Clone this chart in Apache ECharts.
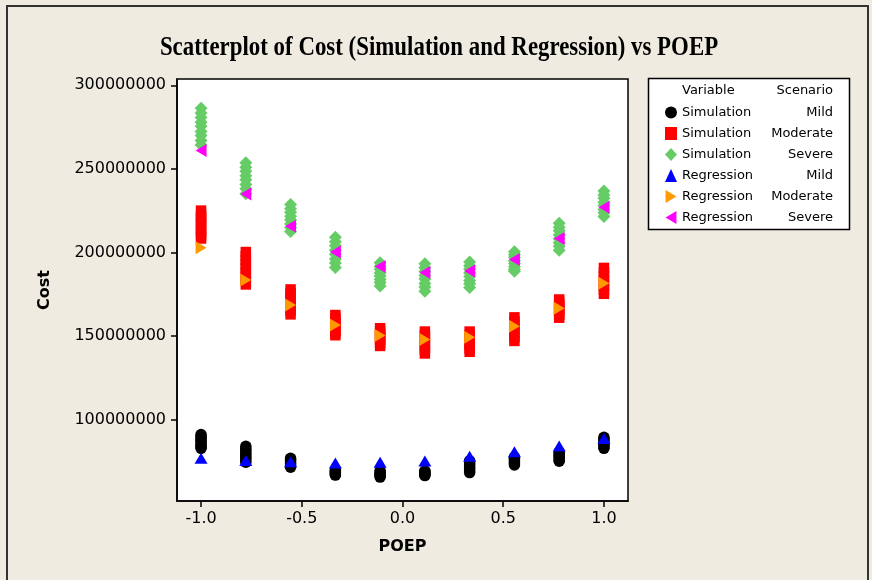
<!DOCTYPE html>
<html>
<head>
<meta charset="utf-8">
<script src="https://cdn.jsdelivr.net/npm/echarts@6/dist/echarts.min.js"></script>
<style>
html,body{margin:0;padding:0;background:#EFEBE1;}
#chart{width:872px;height:580px;}
</style>
</head>
<body>
<div id="chart"></div>
<script>
// ---- data (Cost values in millions) ----
const poep = [-1, -0.7778, -0.5556, -0.3333, -0.1111, 0.1111, 0.3333, 0.5556, 0.7778, 1];
const xTicks = [-1, -0.5, 0, 0.5, 1];
const yTicks = [100000000, 150000000, 200000000, 250000000, 300000000];
const simMild = [
  [91.0, 89.8, 88.8, 87.5, 86.6, 85.3, 84.4, 83.3, 82.7],
  [83.9, 82.6, 81.5, 80.1, 79.2, 77.8, 76.8, 75.5, 74.4],
  [76.8, 75.8, 75.1, 74.0, 73.3, 72.3, 71.4],
  [69.6, 69.1, 68.3, 67.9, 67.1, 66.7],
  [69.3, 68.4, 67.9, 66.9, 66.4, 65.5],
  [69.3, 68.6, 68.2, 67.4, 67.0, 66.4],
  [75.3, 74.0, 73.0, 71.6, 70.7, 69.3, 68.2],
  [77.4, 76.4, 75.7, 74.6, 73.9, 72.8],
  [80.4, 79.4, 78.7, 77.6, 76.9, 75.8, 75.0],
  [89.3, 88.1, 87.2, 85.9, 85.0, 83.7, 82.7]
];
const simModerate = [
  [225.0, 222.5, 220.6, 218.8, 216.5, 214.0, 212.3, 210.2, 208.3],
  [200.2, 197.7, 195.2, 192.8, 190.3, 187.7, 185.6, 183.0, 180.8],
  [177.8, 175.5, 173.6, 171.3, 169.3, 167.0, 165.1, 162.9],
  [162.5, 160.5, 158.9, 156.9, 155.2, 153.1, 151.9, 150.4],
  [154.6, 152.7, 151.2, 149.4, 147.7, 145.8, 144.0],
  [152.6, 150.3, 148.4, 146.1, 144.1, 141.7, 139.5],
  [152.6, 150.5, 148.7, 146.5, 144.6, 142.4, 140.5],
  [161.1, 158.7, 156.6, 154.0, 151.8, 149.3, 147.0],
  [171.8, 169.9, 168.3, 166.3, 164.7, 162.6, 160.9],
  [190.7, 188.1, 185.7, 182.9, 180.5, 177.7, 175.2]
];
const simSevere = [
  [286.3, 283.4, 280.7, 277.8, 275.4, 272.3, 269.9, 266.9, 264.3],
  [253.6, 251.0, 248.6, 245.8, 243.4, 240.6, 238.1, 235.1],
  [228.6, 226.1, 224.0, 221.6, 219.5, 217.0, 214.9, 212.5],
  [209.0, 206.3, 204.0, 201.2, 198.8, 196.0, 193.7, 191.0],
  [193.8, 191.7, 189.9, 187.7, 185.9, 183.7, 181.9, 179.8],
  [193.2, 190.8, 188.6, 186.1, 184.0, 181.4, 179.2, 176.8],
  [194.3, 192.0, 190.0, 187.6, 185.6, 183.2, 181.2, 178.9],
  [200.4, 198.5, 197.0, 195.0, 193.3, 191.4, 189.8, 188.7],
  [217.4, 215.0, 212.9, 210.4, 208.2, 205.7, 203.6, 201.2],
  [236.7, 234.4, 232.4, 230.0, 228.0, 225.6, 223.7, 221.4]
];
const regMild = [76.8, 75.4, 74.7, 74.0, 74.4, 75.2, 78.0, 80.7, 84.1, 88.6];
const regModerate = [202.8, 183.5, 168.5, 156.5, 150.2, 147.8, 149.2, 155.8, 166.5, 181.5];
const regSevere = [260.9, 235.0, 215.7, 200.2, 191.5, 187.9, 188.9, 195.8, 208.3, 227.0];

const M = 1000000;
function clusterPairs(groups) {
  const out = [];
  groups.forEach((g, i) => g.forEach(v => out.push([poep[i], v * M])));
  return out;
}
function linePairs(vals) {
  return vals.map((v, i) => [poep[i], v * M]);
}

const rightTri = 'path://M0,0 L10,6 L0,12 Z';
const leftTri = 'path://M10,0 L0,6 L10,12 Z';

const chart = echarts.init(document.getElementById('chart'), null, {renderer: 'canvas'});
const axisFont = {fontFamily: 'DejaVu Sans', fontSize: 16, color: '#000'};

chart.setOption({
  backgroundColor: '#EFEBE1',
  animation: false,
  grid: {
    left: 177, top: 79, right: 244, bottom: 79,
    show: true, backgroundColor: '#FFFFFF', borderColor: '#000', borderWidth: 1.5
  },
  xAxis: {
    type: 'value', min: -1.1194, max: 1.1194,
    name: 'POEP', nameLocation: 'middle', nameGap: 38,
    nameTextStyle: {fontFamily: 'DejaVu Sans', fontWeight: 'bold', fontSize: 16, color: '#000'},
    axisLine: {show: true, onZero: false, lineStyle: {color: '#000', width: 1.5}},
    axisTick: {show: true, length: 6, customValues: xTicks, lineStyle: {color: '#000', width: 1.5}},
    axisLabel: Object.assign({customValues: xTicks, margin: 10, formatter: v => v.toFixed(1)}, axisFont),
    splitLine: {show: false}
  },
  yAxis: {
    type: 'value', min: 51200000, max: 303750000,
    name: 'Cost', nameLocation: 'middle', nameGap: 124,
    nameTextStyle: {fontFamily: 'DejaVu Sans', fontWeight: 'bold', fontSize: 16, color: '#000'},
    axisLine: {show: true, onZero: false, lineStyle: {color: '#000', width: 1.5}},
    axisTick: {show: true, length: 6, customValues: yTicks, lineStyle: {color: '#000', width: 1.5}},
    axisLabel: Object.assign({customValues: yTicks, margin: 11, formatter: v => String(Math.round(v))}, axisFont),
    splitLine: {show: false}
  },
  legend: {
    orient: 'vertical', left: 660, top: 101, itemWidth: 12, itemHeight: 13, itemGap: 8,
    textStyle: {fontFamily: 'DejaVu Sans', fontSize: 13, color: '#000', lineHeight: 13,
      rich: {
        a: {width: 92, align: 'left', fontFamily: 'DejaVu Sans', fontSize: 13, lineHeight: 13},
        b: {width: 59, align: 'right', fontFamily: 'DejaVu Sans', fontSize: 13, lineHeight: 13}
      }
    },
    formatter: name => {
      const p = name.split(' ');
      return '{a|' + p[0] + '}{b|' + p[1] + '}';
    },
    data: ['Simulation Mild', 'Simulation Moderate', 'Simulation Severe', 'Regression Mild', 'Regression Moderate', 'Regression Severe']
  },
  graphic: [
    {type: 'rect', z: -10, silent: true, shape: {x: 7, y: 6, width: 861, height: 600},
      style: {fill: 'none', stroke: '#333', lineWidth: 2}},
    {type: 'rect', z: 0, silent: true, shape: {x: 648.5, y: 78.5, width: 201, height: 151},
      style: {fill: '#FFFFFF', stroke: '#000', lineWidth: 1.5}},
    {type: 'text', z: 5, silent: true, x: 682, y: 91,
      style: {text: 'Variable', font: '13px "DejaVu Sans"', fill: '#000', textAlign: 'left', textVerticalAlign: 'middle'}},
    {type: 'text', z: 5, silent: true, x: 833, y: 91,
      style: {text: 'Scenario', font: '13px "DejaVu Sans"', fill: '#000', textAlign: 'right', textVerticalAlign: 'middle'}},
    {type: 'text', z: 5, silent: true, x: 439, y: 48, scaleX: 1.04, scaleY: 1.2,
      style: {text: 'Scatterplot of Cost (Simulation and Regression) vs POEP', font: 'bold 22px "Liberation Serif"', fill: '#000', textAlign: 'center', textVerticalAlign: 'middle'}}
  ],
  series: [
    {name: 'Simulation Mild', type: 'scatter', symbol: 'circle', symbolSize: 11.5,
      itemStyle: {color: '#000000', opacity: 1}, data: clusterPairs(simMild)},
    {name: 'Simulation Moderate', type: 'scatter', symbol: 'rect', symbolSize: 10.5,
      itemStyle: {color: '#FF0000', opacity: 1}, data: clusterPairs(simModerate)},
    {name: 'Simulation Severe', type: 'scatter', symbol: 'diamond', symbolSize: [13, 13],
      itemStyle: {color: '#66CC66', opacity: 1}, data: clusterPairs(simSevere)},
    {name: 'Regression Mild', type: 'scatter', symbol: 'triangle', symbolSize: [13, 11],
      itemStyle: {color: '#0000FF', opacity: 1}, data: linePairs(regMild)},
    {name: 'Regression Moderate', type: 'scatter', symbol: rightTri, symbolSize: [11, 13],
      itemStyle: {color: '#FF9900', opacity: 1}, data: linePairs(regModerate)},
    {name: 'Regression Severe', type: 'scatter', symbol: leftTri, symbolSize: [11, 13],
      itemStyle: {color: '#FF00FF', opacity: 1}, data: linePairs(regSevere)}
  ]
});
</script>
</body>
</html>
